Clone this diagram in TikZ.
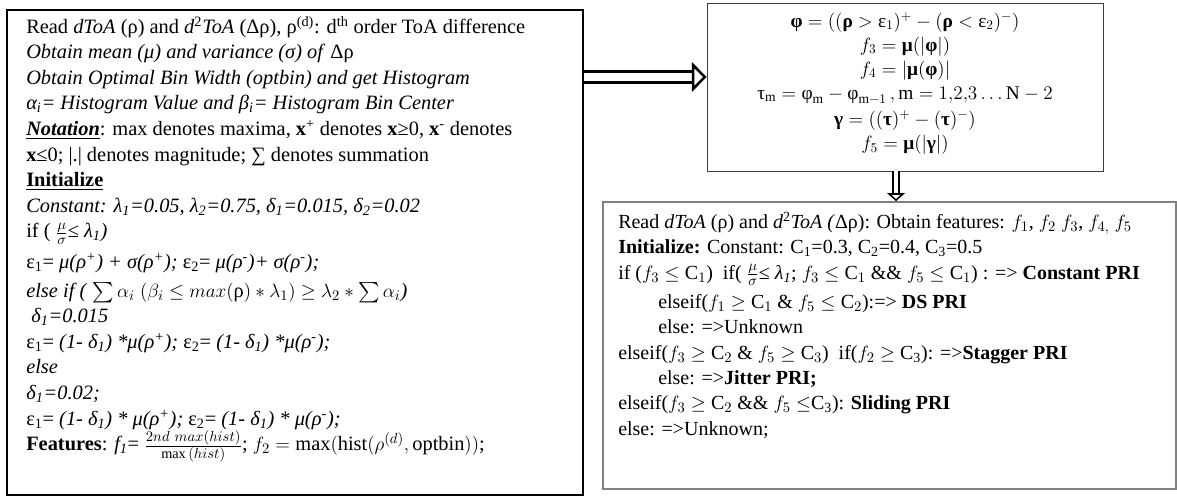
\documentclass[tikz,border=0pt]{standalone}
\usepackage{amsmath}
\usepackage{amssymb}
\usepackage{fontspec}
\setmainfont{Liberation Serif}
\usetikzlibrary{fit,arrows.meta}

\newcommand{\bgr}[1]{\textnormal{\bfseries #1}}
\newcommand{\ugr}[1]{\textnormal{#1}}

\tikzset{
  frame/.style={draw, inner sep=0pt},
  txt/.style={inner sep=0pt},
  hollow/.style={draw, double, double distance=#1},
}

\begin{document}
\begin{tikzpicture}[x=0.75pt,y=0.75pt,yscale=-1,xscale=1]
\useasboundingbox (0,0) rectangle (1177,497);

%Shape: Rectangle [left box]
\coordinate (lnw) at (7,10);
\coordinate (lse) at (583,495);
\node [frame, line width=1.2pt, fit=(lnw)(lse)] (algo) {};
%Shape: Rectangle [top right box]
\coordinate (tnw) at (707,3);
\coordinate (tse) at (1103,171);
\node [frame, line width=0.6pt, draw=black!75, fit=(tnw)(tse)] (feat) {};
%Shape: Rectangle [bottom right box]
\coordinate (bnw) at (603,202);
\coordinate (bse) at (1176,489);
\node [frame, line width=1.2pt, draw=black!50, fit=(bnw)(bse)] (rule) {};

% Text Node
\node [txt, anchor=north west, align=left, font=\fontsize{15.3}{19.2}\selectfont] (algotext) at (26,16) {%
Read \textit{dToA} (ρ) and \textit{d}\textsuperscript{2}\textit{ToA} (Δρ), ρ\textsuperscript{(d)}: d\textsuperscript{th} order ToA difference\\
\textit{Obtain mean (μ) and variance (σ) of} Δρ\\
\textit{Obtain Optimal Bin Width (optbin) and get Histogram}\\
\textit{α\textsubscript{i}= Histogram Value and β\textsubscript{i}= Histogram Bin Center}\\
\textbf{\textit{\underline{Notation}}}: max denotes maxima, \textbf{x}\textsuperscript{+} denotes \textbf{x}≥0, \textbf{x}\textsuperscript{-} denotes\\
\textbf{x}≤0; |.| denotes magnitude; ∑ denotes summation\\
\textbf{\underline{Initialize}}\\
\textit{Constant: λ\textsubscript{1}=0.05, λ\textsubscript{2}=0.75, δ\textsubscript{1}=0.015, δ\textsubscript{2}=0.02}\\
if ( $\frac{\mu}{\sigma}$≤ \textit{λ\textsubscript{1})}\\[4pt]
ε\textsubscript{1}= \textit{μ(ρ\textsuperscript{+}) + σ(ρ\textsuperscript{+}); }ε\textsubscript{2}= \textit{μ(ρ\textsuperscript{-})+ σ(ρ\textsuperscript{-});}\\[2pt]
\textit{else if (}\ $\sum\alpha_i\;(\beta_i\le max(\text{ρ})*\lambda_1)\ge\lambda_2*\sum\alpha_i$\textit{)}\\
\textit{\ δ\textsubscript{1}=0.015}\\
ε\textsubscript{1}= \textit{(1- δ\textsubscript{1}) *μ(ρ\textsuperscript{+}); }ε\textsubscript{2}= \textit{(1- δ\textsubscript{1}) *μ(ρ\textsuperscript{-});}\\
\textit{else}\\
\textit{δ\textsubscript{1}=0.02;}\\
ε\textsubscript{1}= \textit{(1- δ\textsubscript{1}) * μ(ρ\textsuperscript{+}); }ε\textsubscript{2}= \textit{(1- δ\textsubscript{1}) * μ(ρ\textsuperscript{-});}\\
\textbf{Features}: \textit{f\textsubscript{1}}= $\frac{2nd\ max(hist)}{\max\,(hist)}$; $f_2=\max(\mathrm{hist}(\rho^{(d)},\mathrm{optbin}))$;};

% Text Node
\node [txt, anchor=north, align=center, font=\fontsize{14.5}{18}\selectfont] (feattext) at (905,12) {%
$\bgr{φ}=((\bgr{ρ}>\ugr{ε}_1)^+-(\bgr{ρ}<\ugr{ε}_2)^-)$\\
$f_3=\bgr{μ}(|\bgr{φ}|)$\\
$f_4=|\bgr{μ}(\bgr{φ})|$\\
$\ugr{τ}_{\mathrm{m}}=\ugr{φ}_{\mathrm{m}}-\ugr{φ}_{\mathrm{m}-1}\,,\mathrm{m}=1{,}2{,}3\ldots\mathrm{N}-2$\\[2pt]
$\bgr{γ}=((\bgr{τ})^+-(\bgr{τ})^-)$\\
$f_5=\bgr{μ}(|\bgr{γ}|)$};

% Text Node
\node [txt, anchor=north west, align=left, font=\fontsize{15}{19}\selectfont] (ruletext) at (618,212) {%
Read \textit{dToA} (ρ) and \textit{d}\textsuperscript{2}\textit{ToA (}Δρ): Obtain features: $f_1$, $f_2$ $f_3$, $f_{4,}$ $f_5$\\
\textbf{Initialize:} Constant: C\textsubscript{1}=0.3, C\textsubscript{2}=0.4, C\textsubscript{3}=0.5\\
if ($f_3\le\mathrm{C}_1$)\ \ if( $\frac{\mu}{\sigma}$≤ \textit{λ\textsubscript{1}}; $f_3\le\mathrm{C}_1$ \&\& $f_5\le\mathrm{C}_1$) : => \textbf{Constant PRI}\\[3pt]
\hspace*{2em}elseif($f_1\ge\mathrm{C}_1$ \& $f_5\le\mathrm{C}_2$):=> \textbf{DS PRI}\\
\hspace*{2em}else: =>Unknown\\
elseif($f_3\ge\mathrm{C}_2$ \& $f_5\ge\mathrm{C}_3$)\ \ if($f_2\ge$ C\textsubscript{3}): =>\textbf{Stagger PRI}\\
\hspace*{2em}else: =>\textbf{Jitter PRI;}\\
elseif($f_3\ge\mathrm{C}_2$ \&\& $f_5\le$C\textsubscript{3}): \textbf{Sliding PRI}\\
else: =>Unknown;};

%Straight Lines [hollow arrows]
\coordinate (rightarr) at (0,77);
\coordinate (downarr) at (896,0);
\draw [hollow=6pt, line width=1.9pt, -{Triangle[open, length=11pt, width=22pt]}] (algo.east |- rightarr) -- (feat.west |- rightarr);
\draw [hollow=3pt, line width=1.2pt, -{Triangle[open, length=6pt, width=13pt]}] (feat.south -| downarr) -- (rule.north -| downarr);

\end{tikzpicture}
\end{document}
